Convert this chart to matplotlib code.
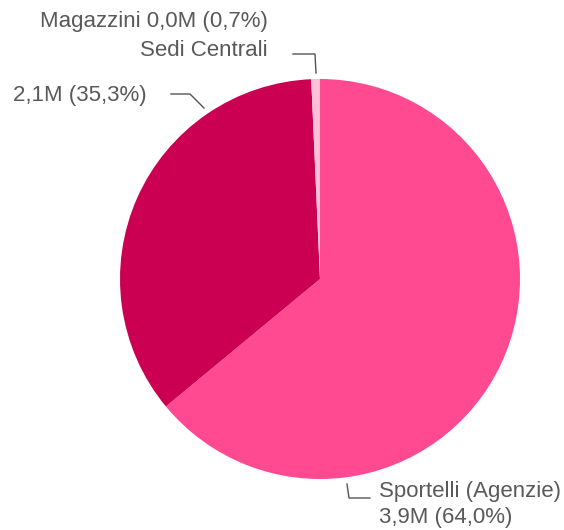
import matplotlib
matplotlib.use("Agg")
import matplotlib.pyplot as plt

plt.rcParams['font.family'] = ['Liberation Sans', 'DejaVu Sans']

labels = ['Sportelli (Agenzie)', 'Sedi Centrali', 'Magazzini']
values_m = [3.9, 2.1, 0.0]
shares = [64.0, 35.3, 0.7]
colors = ['#FF4A91', '#CC0052', '#FFBFD6']

W, H = 564, 530
fig = plt.figure(figsize=(W / 100, H / 100), dpi=100)
ax = fig.add_axes([0, 0, 1, 1])

ax.pie(shares, colors=colors, startangle=90, counterclock=False,
       center=(320, H - 279), radius=200, frame=True,
       wedgeprops=dict(linewidth=0))
ax.set_xlim(0, W)
ax.set_ylim(0, H)
ax.set_aspect('equal')
ax.axis('off')

def fmt(v, p):
    return f"{v:.1f}M ({p:.1f}%)".replace('.', ',')

tc = '#595959'
lc = '#555555'
fs = 16

# Sportelli
ax.text(379, H - 491, labels[0], ha='left', va='center', color=tc, fontsize=fs)
ax.text(379, H - 518, fmt(values_m[0], shares[0]), ha='left', va='center', color=tc, fontsize=fs)
ax.plot([347, 349, 370], [H - 484, H - 498, H - 498], color=lc, lw=1)

# Sedi Centrali / Magazzini (overlapping labels)
ax.text(268, H - 22, labels[2] + ' ' + fmt(values_m[2], shares[2]), ha='right', va='center', color=tc, fontsize=fs)
ax.text(268, H - 50, labels[1], ha='right', va='center', color=tc, fontsize=fs)
ax.plot([293, 315, 316], [H - 54, H - 54, H - 73], color=lc, lw=1)

ax.text(147, H - 96, fmt(values_m[1], shares[1]), ha='right', va='center', color=tc, fontsize=fs)
ax.plot([171, 190, 204], [H - 94, H - 94, H - 108], color=lc, lw=1)

fig.savefig('out.png', dpi=100)
